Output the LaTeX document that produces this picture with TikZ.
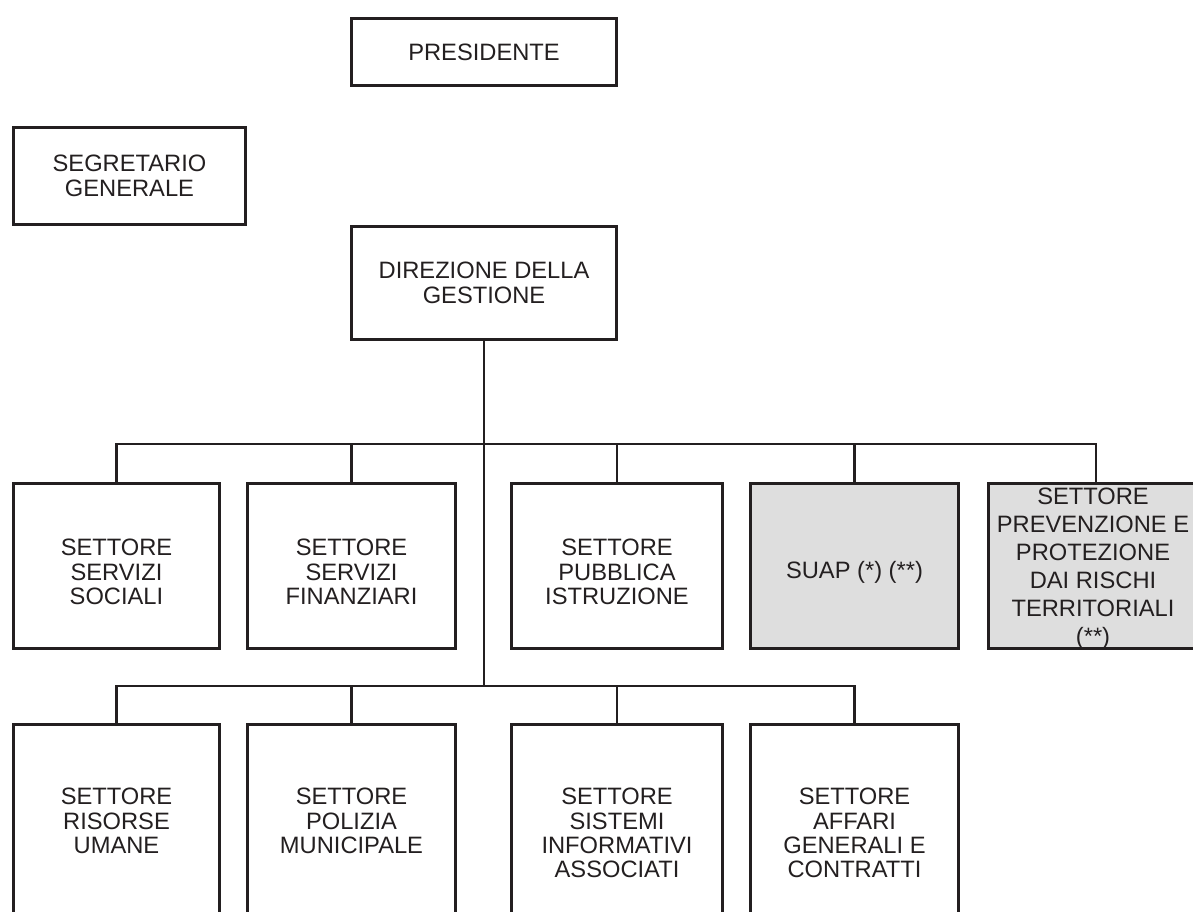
\documentclass[tikz,border=0pt]{standalone}
\usepackage{fontspec}
\setmainfont{Liberation Sans}
\definecolor{ink}{RGB}{35,31,32}
\definecolor{boxgray}{RGB}{222,222,222}
\tikzset{
  orgbox/.style={draw=ink, line width=3.2pt, inner sep=0pt, align=center, text=ink,
    font=\fontsize{23.7}{25}\selectfont},
  graybox/.style={orgbox, fill=boxgray},
  lbl/.style={inner sep=0pt, align=center, text=ink, anchor=north,
    font=\fontsize{23.7}{24.3}\selectfont},
  conn/.style={draw=ink, line width=2.4pt}
}
\begin{document}
\begin{tikzpicture}[x=1pt,y=-1pt]
\useasboundingbox (0,0) rectangle (1193,911);
% top boxes
\node[orgbox, minimum width=264.8pt, minimum height=66.8pt] (pres) at (484,52) {PRESIDENTE};
\node[orgbox, minimum width=231.8pt, minimum height=96.8pt] (segr) at (129.5,176) {SEGRETARIO\\GENERALE};
\node[orgbox, minimum width=264.8pt, minimum height=112.8pt] (dir) at (484,283) {DIREZIONE DELLA\\GESTIONE};
% row 1 boxes
\node[orgbox, minimum width=205.8pt, minimum height=164.8pt] (b1) at (116.5,566) {};
\node[orgbox, minimum width=207.8pt, minimum height=164.8pt] (b2) at (351.5,566) {};
\node[orgbox, minimum width=210.8pt, minimum height=164.8pt] (b3) at (617,566) {};
\node[graybox, minimum width=207.8pt, minimum height=164.8pt] (b4) at (854.5,566) {};
\node[graybox, minimum width=214.8pt, minimum height=164.8pt] (b5) at (1096,566) {};
% row 2 boxes
\node[orgbox, minimum width=205.8pt, minimum height=196.8pt] (r1) at (116.5,823) {};
\node[orgbox, minimum width=207.8pt, minimum height=196.8pt] (r2) at (351.5,823) {};
\node[orgbox, minimum width=210.8pt, minimum height=196.8pt] (r3) at (617,823) {};
\node[orgbox, minimum width=207.8pt, minimum height=196.8pt] (r4) at (854.5,823) {};
% labels row 1
\node[lbl] (t1) at (116.5,539) {SETTORE\\SERVIZI\\SOCIALI};
\node[lbl] (t2) at (351.5,539) {SETTORE\\SERVIZI\\FINANZIARI};
\node[lbl] (t3) at (617,539) {SETTORE\\PUBBLICA\\ISTRUZIONE};
\node[lbl] (t4) at (854.5,561) {SUAP (*) (**)};
\node[lbl, font=\fontsize{23.7}{28}\selectfont] (t5) at (1093,488) {SETTORE\\PREVENZIONE E\\PROTEZIONE\\DAI RISCHI\\TERRITORIALI\\(**)};
% labels row 2
\node[lbl] (u1) at (116.5,788) {SETTORE\\RISORSE\\UMANE};
\node[lbl] (u2) at (351.5,788) {SETTORE\\POLIZIA\\MUNICIPALE};
\node[lbl] (u3) at (617,788) {SETTORE\\SISTEMI\\INFORMATIVI\\ASSOCIATI};
\node[lbl] (u4) at (854.5,788) {SETTORE\\AFFARI\\GENERALI E\\CONTRATTI};
% buses
\coordinate (bus1) at (484,444);
\coordinate (bus2) at (484,686);
\draw[conn] (dir.south) -- (bus2);
\draw[conn] (b1.north) |- (bus1) -| (b5.north);
\draw[conn] (b2.north) -- (b2.north |- bus1);
\draw[conn] (b3.north) -- (b3.north |- bus1);
\draw[conn] (b4.north) -- (b4.north |- bus1);
\draw[conn] (r1.north) |- (bus2) -| (r4.north);
\draw[conn] (r2.north) -- (r2.north |- bus2);
\draw[conn] (r3.north) -- (r3.north |- bus2);
\end{tikzpicture}
\end{document}
